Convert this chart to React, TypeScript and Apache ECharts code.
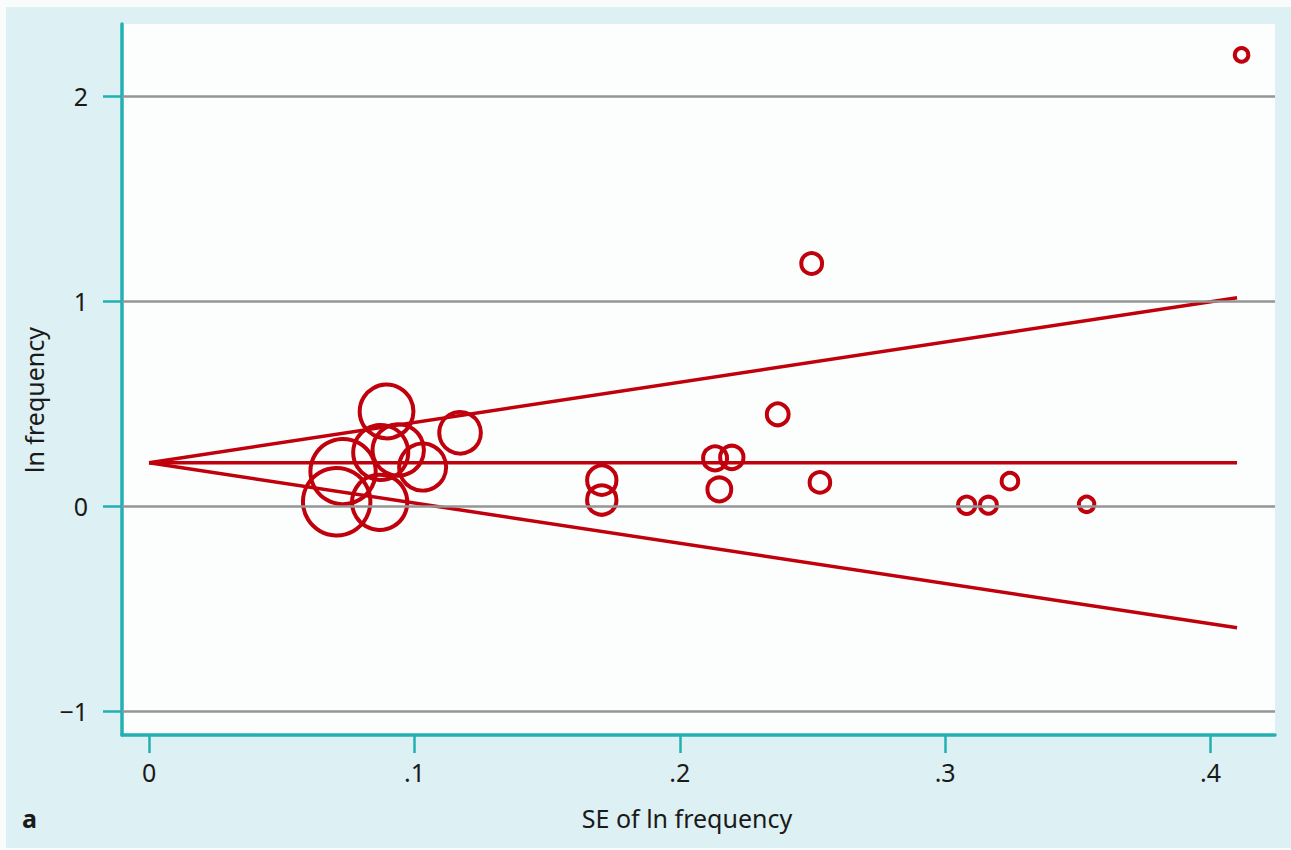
import React, { useEffect, useRef } from "react";
import * as echarts from "echarts";

// Study data: standard error (x) and ln frequency (y)
const seValues = [0.0895, 0.1172, 0.0707, 0.0731, 0.0869, 0.0873, 0.0939, 0.1031, 0.1706, 0.1706, 0.2133, 0.2196, 0.2149, 0.2369, 0.2528, 0.2497, 0.3081, 0.3163, 0.3244, 0.3533, 0.4117];
const lnValues = [0.460, 0.356, 0.020, 0.167, 0.017, 0.260, 0.272, 0.189, 0.125, 0.028, 0.231, 0.236, 0.080, 0.446, 0.114, 1.182, 0.003, 0.003, 0.120, 0.007, 2.199];

// Funnel lines (pooled estimate and pseudo 95% limits)
const lineSE = [0, 0.41];
const pooledY = [0.21, 0.21];
const upperY = [0.21, 1.015];
const lowerY = [0.21, -0.595];

const xTicks = [0, 0.1, 0.2, 0.3, 0.4];
const xTickLabels = ["0", ".1", ".2", ".3", ".4"];
const yTicks = [-1, 0, 1, 2];
const yTickLabels = ["\u22121", "0", "1", "2"];

const RED = "#c0000c";
const TEAL = "#22b0b2";
const GRID = "#959595";
const FONT = "'Noto Sans', 'Open Sans', sans-serif";

export default function App() {
  const ref = useRef<HTMLDivElement>(null);
  useEffect(() => {
    if (!ref.current) return;
    const chart = echarts.init(ref.current, undefined, { renderer: "svg" });
    const pts = seValues.map((s, i) => [s, lnValues[i]]);
    const mkLine = (ys: number[]) => lineSE.map((s, i) => [s, ys[i]]);
    const lineSeries = (name: string, ys: number[]) => ({
      name,
      type: "line",
      data: mkLine(ys),
      symbol: "none",
      silent: true,
      z: 3,
      lineStyle: { color: RED, width: 3.5, opacity: 1 },
    });
    chart.setOption({
      animation: false,
      backgroundColor: "#fafcfc",
      graphic: [
        {
          type: "rect",
          shape: { x: 6, y: 7, width: 1285, height: 841 },
          style: { fill: "#ddf0f3" },
          z: -10,
          silent: true,
        },
        {
          type: "text",
          x: 34,
          y: 400,
          rotation: Math.PI / 2,
          style: {
            text: "ln frequency",
            font: `25px ${FONT}`,
            fill: "#1a1a1a",
            align: "center",
            verticalAlign: "middle",
          },
        },
        {
          type: "text",
          x: 687,
          y: 818,
          style: {
            text: "SE of ln frequency",
            font: `25px ${FONT}`,
            fill: "#1a1a1a",
            align: "center",
            verticalAlign: "middle",
          },
        },
        {
          type: "text",
          x: 22,
          y: 818,
          style: {
            text: "a",
            font: `bold 25px ${FONT}`,
            fill: "#1a1a1a",
            align: "left",
            verticalAlign: "middle",
          },
        },
      ],
      grid: {
        left: 122,
        top: 24,
        right: 16,
        bottom: 115,
        show: true,
        backgroundColor: "#fcfefd",
        borderWidth: 0,
        containLabel: false,
      },
      xAxis: {
        type: "value",
        min: -0.0102,
        max: 0.4243,
        axisLine: { show: true, onZero: false, lineStyle: { color: TEAL, width: 3.5 } },
        axisTick: { show: true, length: 18, customValues: xTicks, lineStyle: { color: TEAL, width: 2.5 } },
        axisLabel: {
          customValues: xTicks,
          margin: 24,
          fontSize: 25,
          fontFamily: FONT,
          color: "#1a1a1a",
          formatter: (v: number) => {
            const i = xTicks.findIndex((t) => Math.abs(t - v) < 1e-9);
            return i >= 0 ? xTickLabels[i] : "";
          },
        },
        splitLine: { show: false },
      },
      yAxis: {
        type: "value",
        min: -1.118,
        max: 2.35,
        axisLine: { show: true, onZero: false, lineStyle: { color: TEAL, width: 3.5 } },
        axisTick: { show: true, length: 19, customValues: yTicks, lineStyle: { color: TEAL, width: 2.5 } },
        axisLabel: {
          customValues: yTicks,
          margin: 34,
          fontSize: 25,
          fontFamily: FONT,
          color: "#1a1a1a",
          formatter: (v: number) => {
            const i = yTicks.findIndex((t) => Math.abs(t - v) < 1e-9);
            return i >= 0 ? yTickLabels[i] : "";
          },
        },
        splitLine: { show: false },
      },
      series: [
        {
          name: "gridlines",
          type: "line",
          data: [],
          silent: true,
          z: 1,
          markLine: {
            silent: true,
            symbol: "none",
            label: { show: false },
            lineStyle: { color: GRID, width: 2.5, type: "solid", opacity: 1 },
            data: yTicks.map((t) => ({ yAxis: t })),
          },
        },
        lineSeries("pooled", pooledY),
        lineSeries("upper", upperY),
        lineSeries("lower", lowerY),
        {
          name: "studies",
          type: "scatter",
          data: pts,
          z: 4,
          symbol: "circle",
          symbolSize: (v: number[]) => 2 * (2.3 / v[0] + 1.2),
          itemStyle: { color: "rgba(0,0,0,0)", borderColor: RED, borderWidth: 4, opacity: 1 },
        },
      ],
    });
    return () => chart.dispose();
  }, []);
  return (
    <div
      ref={ref}
      style={{ position: "absolute", left: 0, top: 0, width: 1291, height: 850 }}
    />
  );
}
